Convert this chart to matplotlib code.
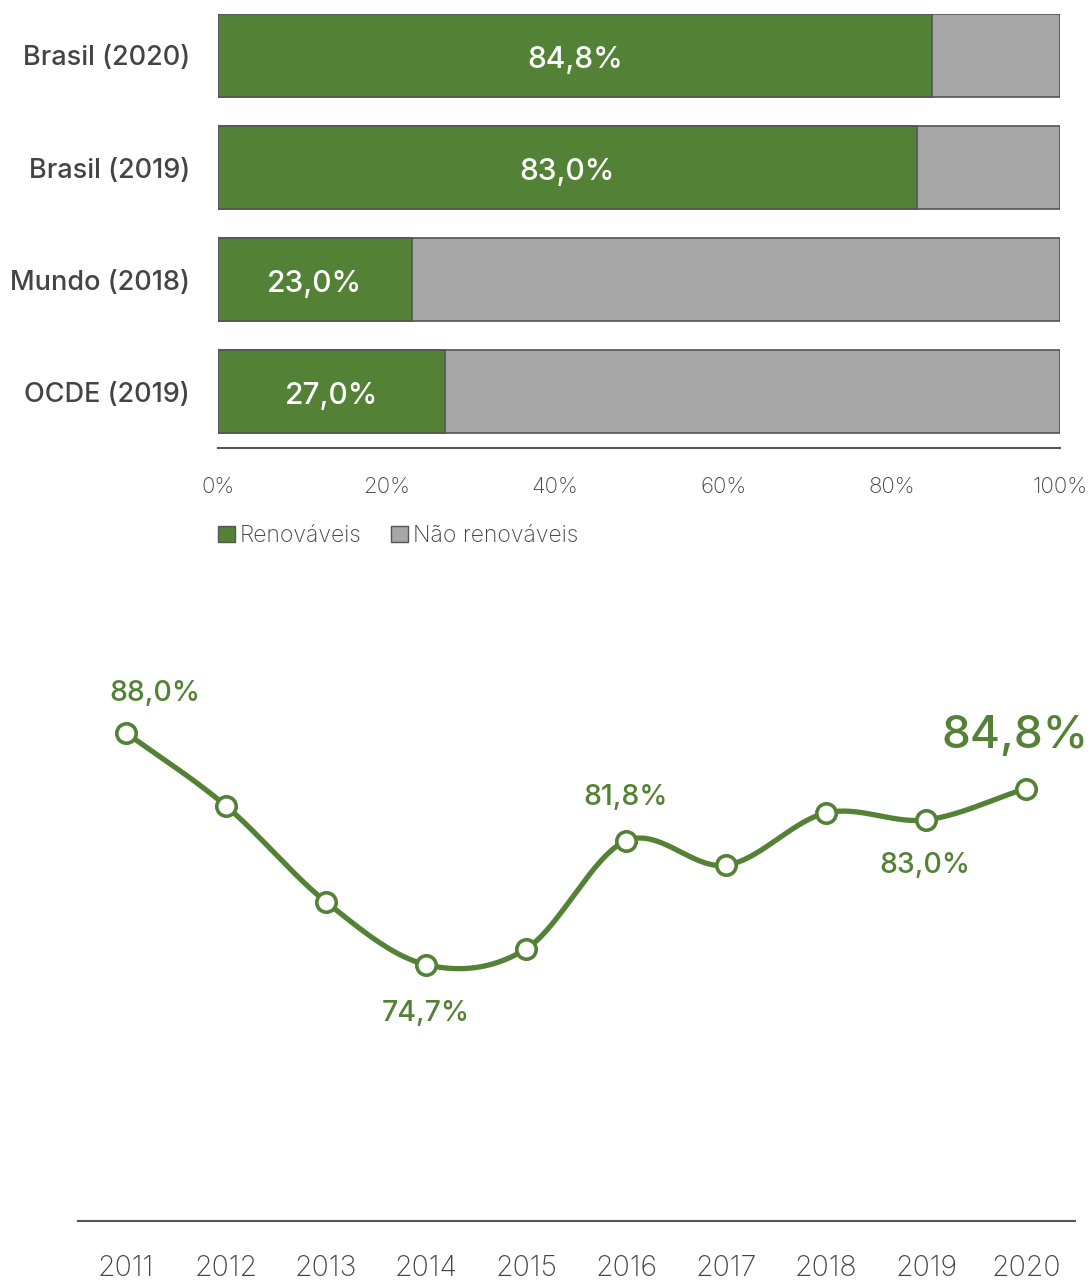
import numpy as np
import matplotlib
matplotlib.use("Agg")
import matplotlib.pyplot as plt
from matplotlib.patches import Patch

plt.rcParams['font.family'] = ['Inter', 'DejaVu Sans']

# ---- data ----
bar_categories = ["Brasil (2020)", "Brasil (2019)", "Mundo (2018)", "OCDE (2019)"]
renewable_share = [84.8, 83.0, 23.0, 27.0]
bar_labels = ["84,8%", "83,0%", "23,0%", "27,0%"]
x_ticks_pct = [0, 20, 40, 60, 80, 100]
x_tick_labels = ["0%", "20%", "40%", "60%", "80%", "100%"]
legend_labels = ["Renováveis", "Não renováveis"]

years = [2011, 2012, 2013, 2014, 2015, 2016, 2017, 2018, 2019, 2020]
series = [88.0, 83.8, 78.3, 74.7, 75.6, 81.8, 80.4, 83.4, 83.0, 84.8]
annotated = {2011: "88,0%", 2014: "74,7%", 2016: "81,8%", 2019: "83,0%", 2020: "84,8%"}

GREEN = "#538135"
GRAY = "#a6a6a6"
EDGE = "#555555"
TXT = "#444444"

W, H = 1092, 1281
fig = plt.figure(figsize=(W / 100, H / 100), dpi=100)

def rect(l, t, r, b):
    return [l / W, 1 - b / H, (r - l) / W, (b - t) / H]

# ---- top bar chart ----
ax = fig.add_axes(rect(218, 14, 1060, 448))
pos = np.arange(len(bar_categories))[::-1]
ax.barh(pos, [100] * len(pos), height=0.74, color=GRAY, edgecolor=EDGE, linewidth=1.2)
ax.barh(pos, renewable_share, height=0.74, color=GREEN, edgecolor=EDGE, linewidth=1.2)
for p, v, lab in zip(pos, renewable_share, bar_labels):
    ax.text(v / 2, p - 0.04, lab, ha="center", va="center", color="white",
            fontsize=21.5, fontweight="medium")
ax.set_xlim(0, 100)
ax.set_ylim(-0.5, 3.37)
ax.set_yticks(pos)
ax.set_yticklabels(bar_categories, fontsize=19.5, fontweight="medium", color=TXT)
ax.set_xticks(x_ticks_pct)
ax.set_xticklabels(x_tick_labels, fontsize=16, fontweight="light", color=TXT)
ax.tick_params(axis="both", length=0)
ax.tick_params(axis="x", pad=21)
ax.tick_params(axis="y", pad=20)
for s in ["top", "right", "left"]:
    ax.spines[s].set_visible(False)
ax.spines["bottom"].set_color(EDGE)
ax.spines["bottom"].set_linewidth(1.5)

handles = [Patch(facecolor=GREEN, edgecolor=EDGE), Patch(facecolor=GRAY, edgecolor=EDGE)]
leg = fig.legend(handles, legend_labels, loc="center left",
                 bbox_to_anchor=(197 / W, 1 - 536 / H), ncol=2, frameon=False,
                 handlelength=0.75, handleheight=0.75, handletextpad=0.2,
                 columnspacing=1.3, prop={"size": 16.5, "weight": "light"})
for t in leg.get_texts():
    t.set_color(TXT)

# ---- bottom line chart ----
ax2 = fig.add_axes(rect(78, 660, 1075, 1221))
x = np.array(years, dtype=float)
y = np.array(series, dtype=float)
# Catmull-Rom smoothing for the drawn curve
m = np.zeros_like(y)
m[1:-1] = (y[2:] - y[:-2]) / 2
m[0] = y[1] - y[0]
m[-1] = y[-1] - y[-2]
xs, ys = [], []
for i in range(len(x) - 1):
    t = np.linspace(0, 1, 40)
    h00 = 2 * t**3 - 3 * t**2 + 1
    h10 = t**3 - 2 * t**2 + t
    h01 = -2 * t**3 + 3 * t**2
    h11 = t**3 - t**2
    xs.append(x[i] + t * (x[i + 1] - x[i]))
    ys.append(h00 * y[i] + h10 * m[i] + h01 * y[i + 1] + h11 * m[i + 1])
ax2.plot(np.concatenate(xs), np.concatenate(ys), color=GREEN, lw=3.8,
         solid_capstyle="round", zorder=2)
ax2.plot(x, y, "o", ms=14, mfc="white", mec=GREEN, mew=2.6, zorder=3)

offsets = {2011: (21, 28, 20.5), 2014: (0, -35, 20.5), 2016: (0, 31, 20.5),
           2019: (-1, -33, 20.5), 2020: (-8, 38, 33)}
for yr, lab in annotated.items():
    dx, dy, fs = offsets[yr]
    ax2.annotate(lab, (yr, series[years.index(yr)]), xytext=(dx, dy),
                 textcoords="offset points", ha="center", va="center",
                 color=GREEN, fontsize=fs, fontweight="medium")

ax2.set_xlim(2010.52, 2020.49)
ax2.set_ylim(60, 92.17)
ax2.set_xticks(years)
ax2.set_xticklabels([str(v) for v in years], fontsize=20.5, fontweight="light", color=TXT)
ax2.set_yticks([])
ax2.tick_params(axis="x", length=0, pad=24.5)
for s in ["top", "right", "left"]:
    ax2.spines[s].set_visible(False)
ax2.spines["bottom"].set_color(EDGE)
ax2.spines["bottom"].set_linewidth(1.5)

fig.savefig("out.png", dpi=100)
